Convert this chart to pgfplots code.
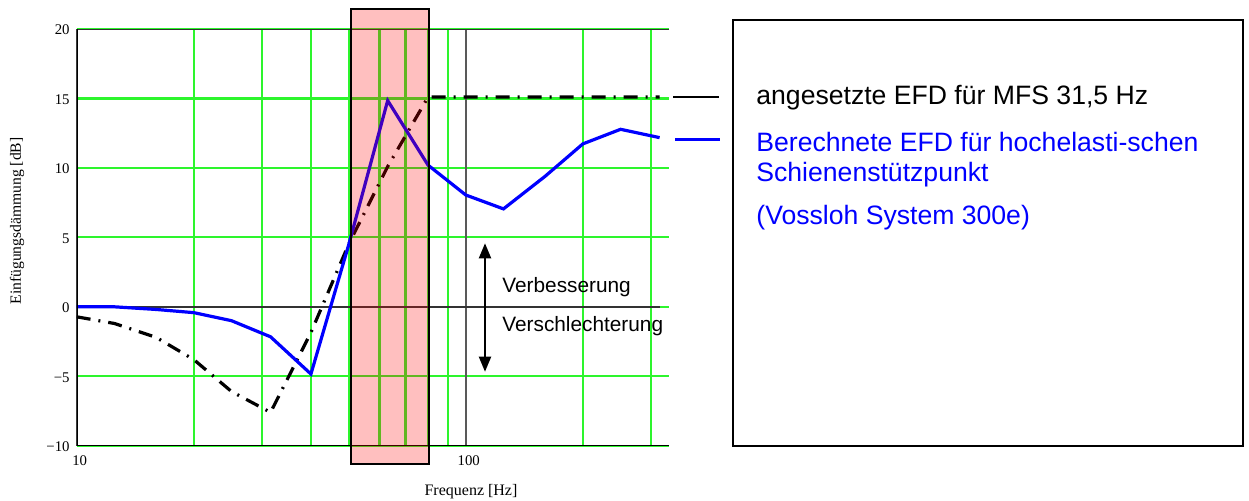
\documentclass[border=0pt]{standalone}
\usepackage{fontspec}
\setmainfont{Liberation Sans}
\newfontfamily\tnr{Liberation Serif}
\usepackage{pgfplots}
\pgfplotsset{compat=1.18}
\usetikzlibrary{arrows.meta}
\definecolor{gridgreen}{RGB}{45,245,45}
\definecolor{efdblue}{RGB}{0,0,255}
\begin{document}
\begin{tikzpicture}
\begin{scope}[x=0.5pt,y=-0.5pt]
\useasboundingbox (0,0) rectangle (1249,500);
\end{scope}
\begin{axis}[
  at={(38.35pt,-222.85pt)}, anchor=south west,
  scale only axis, width=296.15pt, height=208.35pt,
  xmode=log, xmin=10, xmax=333, ymin=-10, ymax=20,
  axis line style={draw=none},
  xtick={20,30,40,50,60,70,80,90,200,300}, xticklabels={},
  extra x ticks={10,100}, extra x tick labels={10,100},
  extra x tick style={grid=major, major grid style={draw=black!65, line width=1pt}},
  ytick={-10,-5,0,5,10,15,20},
  yticklabels={−10,−5,0,5,10,15,20},
  xmajorgrids, ymajorgrids,
  major grid style={gridgreen, line width=1.1pt},
  major tick length=0pt, minor tick length=0pt,
  tick label style={font=\tnr\fontsize{7.4}{9}\selectfont},
  x tick label style={yshift=-1.5pt, xshift=1.5pt},
  y tick label style={yshift=-0.5pt},
]
\addplot[black!80, line width=1.3pt] coordinates {(10,0)(315,0)};
\addplot[black, line width=1.6pt, dash pattern=on 7pt off 4pt on 1pt off 4pt] coordinates {
(10,-0.72) (12.5,-1.2) (16,-2.2) (20,-3.8) (25,-6.1) (31.5,-7.6) (40,-1.85) (50,4.5) (63,10.1) (80,15.1) (100,15.1) (125,15.1) (160,15.1) (200,15.1) (250,15.1) (315,15.1)};
\addplot[efdblue, line width=1.6pt] coordinates {
(10,0) (12.5,0) (16,-0.19) (20,-0.42) (25,-1.0) (31.5,-2.16) (40,-4.84) (50,4.45) (63,14.85) (80,10.2) (100,8.05) (125,7.05) (160,9.4) (200,11.73) (250,12.78) (315,12.18)};
\draw[black!80, line width=1pt] (rel axis cs:0,1) -- (rel axis cs:1,1);
\draw[black, line width=1.2pt] (rel axis cs:0,1) -- (rel axis cs:0,0) -- (rel axis cs:1,0);
\end{axis}
\begin{scope}[x=0.5pt,y=-0.5pt]
\fill[red, fill opacity=0.25] (350.7,9) rectangle (429.3,464.3);
\draw[black, line width=1.1pt] (350.7,9) rectangle (429.3,464.3);
\draw[line width=1pt, -{Triangle[width=6pt,length=7.5pt]}] (485,306.7) -- (485,243.3);
\draw[line width=1pt, -{Triangle[width=6pt,length=7.5pt]}] (485,306.7) -- (485,371.7);
\node[anchor=base west, inner sep=0pt, font=\fontsize{10.4}{12}\selectfont] at (502,292.3) {Verbesserung};
\node[anchor=base west, inner sep=0pt, font=\fontsize{10.4}{12}\selectfont] at (502,331.7) {Verschlechterung};
\draw[black, line width=0.8pt] (733,20) rectangle (1243,445.7);
\draw[black, line width=1.1pt] (673,97.3) -- (719,97.3);
\draw[efdblue, line width=1.3pt] (675,139.3) -- (720,139.3);
\node[anchor=base west, inner sep=0pt, font=\fontsize{13.3}{16}\selectfont] at (756,104.3) {angesetzte EFD für MFS 31,5 Hz};
\node[anchor=base west, inner sep=0pt, text=efdblue, font=\fontsize{13.3}{16}\selectfont] at (756,151) {Berechnete EFD für hochelasti-schen};
\node[anchor=base west, inner sep=0pt, text=efdblue, font=\fontsize{13.3}{16}\selectfont] at (756,181) {Schienenstützpunkt};
\node[anchor=base west, inner sep=0pt, text=efdblue, font=\fontsize{13.3}{16}\selectfont] at (756,224.3) {(Vossloh System 300e)};
\node[rotate=90, inner sep=0pt, font=\tnr\fontsize{7.8}{9}\selectfont] at (17,221) {Einfügungsdämmung [dB]};
\node[anchor=base, inner sep=0pt, font=\tnr\fontsize{8}{9}\selectfont] at (471,495) {Frequenz [Hz]};
\end{scope}
\end{tikzpicture}
\end{document}
